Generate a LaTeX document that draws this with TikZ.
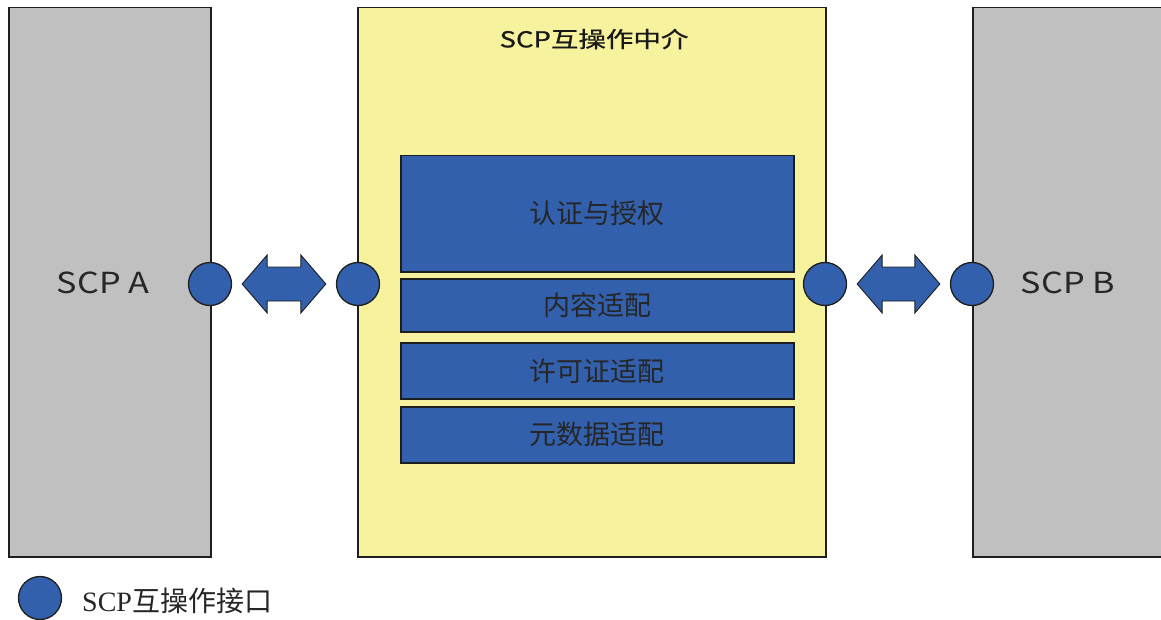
\documentclass[tikz,border=0pt]{standalone}
\usepackage{fontspec}
\setmainfont{Liberation Serif}
\newfontfamily\cjk{Noto Sans CJK SC}
\newfontfamily\cjkwide[FakeStretch=1.25, FakeBold=0.8]{Noto Sans CJK SC}
\newfontfamily\cjkside[FakeStretch=1.18]{Noto Sans CJK SC}
\usetikzlibrary{calc}

\definecolor{sidegray}{HTML}{C0C0C0}
\definecolor{hubyellow}{HTML}{F6F29E}
\definecolor{modblue}{HTML}{3260AC}
\definecolor{edgedark}{HTML}{1E1E1E}

\tikzset{
  panel/.style={draw=edgedark, line width=1.5pt, anchor=north west, inner sep=0pt},
  sidepanel/.style={panel, fill=sidegray},
  hubpanel/.style={panel, fill=hubyellow},
  module/.style={draw=edgedark, line width=1.5pt, fill=modblue, anchor=north west,
                 inner sep=0pt, minimum width=393, font=\cjk\fontsize{27}{30}\selectfont,
                 text=black!85},
  port/.style={circle, draw=edgedark, line width=1.3pt, fill=modblue,
               minimum size=43, inner sep=0pt},
  linkarrow/.style={draw=edgedark, line width=0.9pt, fill=modblue, line join=miter},
  sidelabel/.style={font=\cjkside\fontsize{29}{32}\selectfont, text=black!85},
}

\begin{document}
\begin{tikzpicture}[x=1pt, y=-1pt]
  \useasboundingbox (0,0) rectangle (1161,620);
  \begin{scope}
    \clip (0,0) rectangle (1161,620);

    % the three systems
    \node[sidepanel, minimum width=202, minimum height=549] (sysA) at (8,7) {};
    \node[sidepanel, minimum width=230, minimum height=549] (sysB) at (972,7) {};
    \node[hubpanel, minimum width=468, minimum height=549] (hub) at (357,7) {};
  \end{scope}

  \node[font=\cjkwide\fontsize{22}{26}\selectfont, text=black!90] (hubtitle) at (594,39) {SCP互操作中介};
  \node[sidelabel] (labA) at (103,283) {SCP A};
  \node[sidelabel] (labB) at (1068,283) {SCP B};

  % adaptation modules inside the hub
  \node[module, minimum height=116] (auth) at (400,155) {认证与授权};
  \node[module, minimum height=53]  (content) at (400,278) {内容适配};
  \node[module, minimum height=56]  (license) at (400,342) {许可证适配};
  \node[module, minimum height=56]  (meta) at (400,406) {元数据适配};

  % interface ports
  \node[port] (pA)  at (210,284) {};
  \node[port] (pH1) at (358,284) {};
  \node[port] (pH2) at (825,284) {};
  \node[port] (pB)  at (972,284) {};

  % two-way links between ports
  \coordinate (a1) at ($(pA.east)+(10,0)$);
  \coordinate (a2) at ($(pH1.west)+(-10,0)$);
  \coordinate (b1) at ($(pH2.east)+(10,0)$);
  \coordinate (b2) at ($(pB.west)+(-10,0)$);
  \foreach \p/\q in {a1/a2, b1/b2}{
    \draw[linkarrow] (\p) -- ($(\p)+(25,-29)$) -- ($(\p)+(25,-17)$)
      -- ($(\q)+(-25,-17)$) -- ($(\q)+(-25,-29)$) -- (\q)
      -- ($(\q)+(-25,29)$) -- ($(\q)+(-25,17)$)
      -- ($(\p)+(25,17)$) -- ($(\p)+(25,29)$) -- cycle;
  }

  % legend
  \node[port] (legport) at (40,598) {};
  \node[anchor=west, inner sep=0pt, font=\fontsize{28}{32}\selectfont, text=black!85]
    (legtext) at (82,601) {SCP{\cjk 互操作接口}};
\end{tikzpicture}
\end{document}
